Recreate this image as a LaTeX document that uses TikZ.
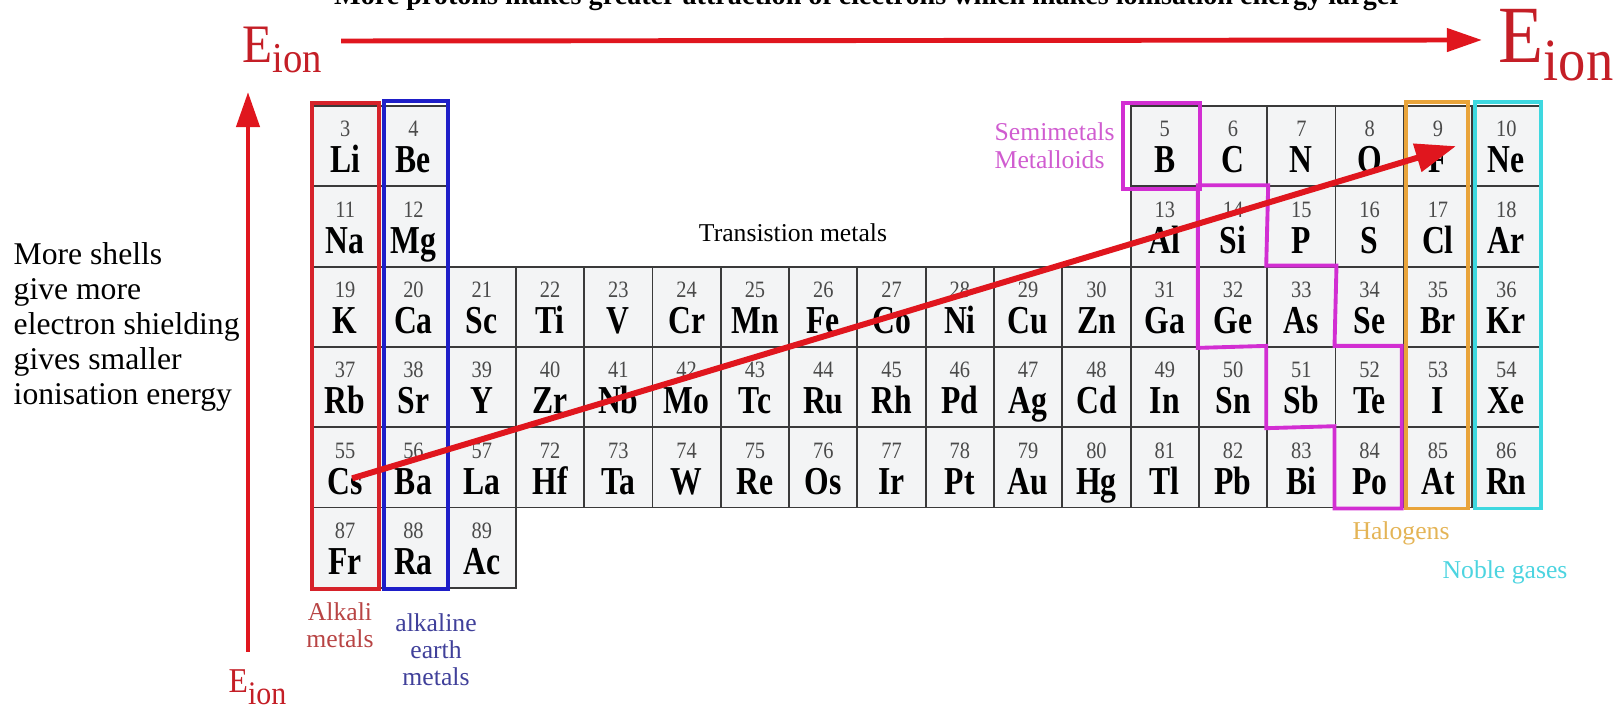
\documentclass[tikz,border=0pt]{standalone}
\usepackage{fontspec}
\setmainfont{Liberation Serif}
\usetikzlibrary{arrows.meta,positioning,calc}
\definecolor{ionred}{HTML}{E0161E}
\definecolor{eionred}{HTML}{C41E26}
\definecolor{alkred}{HTML}{D6222A}
\definecolor{earthblue}{HTML}{1E1EC8}
\definecolor{semimag}{HTML}{D22ED2}
\definecolor{semitext}{HTML}{D05CD0}
\definecolor{halorange}{HTML}{E9A43A}
\definecolor{halotext}{HTML}{E4B456}
\definecolor{noblecyan}{HTML}{3ED8E0}
\definecolor{nobletext}{HTML}{4CD4E0}
\definecolor{alktext}{HTML}{B84444}
\definecolor{earthtext}{HTML}{40409A}
\definecolor{gridgray}{HTML}{3A3A3A}
\definecolor{cellfill}{HTML}{F3F4F5}
\definecolor{numgray}{HTML}{4A4A4A}
\newcommand{\vstretch}[2]{\scalebox{1}[#1]{#2}}
\newcommand{\eionlabel}[3]{\fontsize{#1}{#1}\selectfont\vstretch{1.1}{E}\raisebox{-#3}{\fontsize{#2}{#2}\selectfont\vstretch{1.1}{ion}}}
\newcommand{\pcell}[4]{% column, row, number, symbol
  \pgfmathsetmacro\cx{311+68.3*(#1-1)+34.15}
  \pgfmathsetmacro\ry{106+80.3*(#2-1)}
  \node[cell] (#4) at (\cx,\ry+40.15) {};
  \node[anum] (#4-n) at (\cx,\ry+31) {\vstretch{1.15}{#3}};
  \node[asym] (#4-s) at (\cx,\ry+67) {\vstretch{1.25}{#4}};
}
\tikzset{
  cell/.style={draw=gridgray, fill=cellfill, line width=0.55pt, minimum width=0.683cm, minimum height=0.803cm, inner sep=0pt},
  anum/.style={font=\fontsize{5.8}{6}\selectfont, text=numgray, anchor=base, inner sep=0pt},
  asym/.style={font=\fontsize{9}{10}\selectfont\bfseries, text=black, anchor=base, inner sep=0pt},
  grouplabel/.style={font=\fontsize{7.3}{7.7}\selectfont, align=center, inner sep=0pt},
  sidetext/.style={font=\fontsize{9}{10}\selectfont, align=left, inner sep=0pt},
  eion/.style={text=eionred, inner sep=0pt, anchor=base west},
  groupbox/.style={line width=1.1pt},
  trendarrow/.style={-{Triangle[length=10pt,width=6.5pt]}, line width=1.4pt, draw=ionred},
  diagarrow/.style={-{Triangle[length=11.5pt,width=8pt]}, line width=1.7pt, draw=ionred},
}
\begin{document}
\begin{tikzpicture}[x=0.01cm, y=-0.01cm]
\useasboundingbox (0,0) rectangle (1621,707);
% periods 2 and 3
\foreach \c/\n/\s in {1/3/Li,2/4/Be,13/5/B,14/6/C,15/7/N,16/8/O,17/9/F,18/10/Ne}
  {\pcell{\c}{1}{\n}{\s}}
\foreach \c/\n/\s in {1/11/Na,2/12/Mg,13/13/Al,14/14/Si,15/15/P,16/16/S,17/17/Cl,18/18/Ar}
  {\pcell{\c}{2}{\n}{\s}}
% periods 4 to 7
\foreach \s [count=\c] in {K,Ca,Sc,Ti,V,Cr,Mn,Fe,Co,Ni,Cu,Zn,Ga,Ge,As,Se,Br,Kr}
  {\pgfmathtruncatemacro\n{18+\c}\pcell{\c}{3}{\n}{\s}}
\foreach \s [count=\c] in {Rb,Sr,Y,Zr,Nb,Mo,Tc,Ru,Rh,Pd,Ag,Cd,In,Sn,Sb,Te,I,Xe}
  {\pgfmathtruncatemacro\n{36+\c}\pcell{\c}{4}{\n}{\s}}
\foreach \s/\n [count=\c] in {Cs/55,Ba/56,La/57,Hf/72,Ta/73,W/74,Re/75,Os/76,Ir/77,Pt/78,Au/79,Hg/80,Tl/81,Pb/82,Bi/83,Po/84,At/85,Rn/86}
  {\pcell{\c}{5}{\n}{\s}}
\foreach \s/\n [count=\c] in {Fr/87,Ra/88,Ac/89}
  {\pcell{\c}{6}{\n}{\s}}

% group outlines
\draw[groupbox, draw=alkred] ($(Li.north west)+(2,-2)$) rectangle ($(Fr.south east)+(-1.3,0)$);
\draw[groupbox, draw=earthblue] ($(Be.north west)+(5.7,-4)$) rectangle ($(Ra.south east)+(-0.6,0)$);
\draw[groupbox, draw=semimag] ($(B.north west)+(-6.6,-2)$) rectangle ($(B.south east)+(0,1.5)$);
\draw[groupbox, draw=semimag] (Si.north west) -- (Si.north east) -- (As.north west) -- (As.north east)
  -- (Te.north west) -- ($(Te.north east)+(-3,0)$) -- ($(Po.south east)+(-3,0)$) -- (Po.south west)
  -- (Po.north west) -- (Sb.south west) -- (Sb.north west) -- (Ge.south west) -- cycle;
\draw[groupbox, draw=halorange] ($(F.north west)+(3,-3)$) rectangle ($(At.south east)+(-5,0)$);
\draw[groupbox, draw=noblecyan] ($(Ne.north west)+(4,-3)$) rectangle ($(Rn.south east)+(-0.4,0)$);

% labels
\node[anchor=base, font=\fontsize{8}{9}\selectfont\bfseries] (protons) at (868,5) {More protons makes greater attraction of electrons which makes ionisation energy larger};
\node[sidetext, anchor=west] (shield) at (13,327) {More shells\\give more\\electron shielding\\gives smaller\\ionisation energy};
\node[grouplabel] (transition) at (793,233) {Transistion metals};
\node[grouplabel, text=semitext, align=left, anchor=west, font=\fontsize{7.3}{8}\selectfont] (semi) at (994,146) {Semimetals\\Metalloids};
\node[grouplabel, text=alktext] (alkali) at (340,625) {Alkali\\metals};
\node[grouplabel, text=earthtext] (earth) at (436,650) {alkaline\\earth\\metals};
\node[grouplabel, text=halotext] (halogens) at (1401,533) {Halogens};
\node[grouplabel, text=nobletext] (noble) at (1505,572) {Noble gases};

\node[eion] (eionL) at (242,63) {\eionlabel{14}{11}{2.8pt}};
\node[eion] (eionR) at (1498,63) {\eionlabel{21}{15.5}{5pt}};
\node[eion] (eionB) at (228,693) {\eionlabel{9}{8.5}{3.2pt}};

% trend arrows
\coordinate (topstart) at (341,41);
\coordinate (topend) at (1482,40);
\coordinate (vbot) at (248,652);
\coordinate (vtop) at (248,92);
\draw[trendarrow] (topstart) -- (topend);
\draw[trendarrow] (vbot) -- (vtop);
\draw[diagarrow] ($(Cs)+(7,11)$) -- ($(F)+(18,0)$);
\end{tikzpicture}
\end{document}
